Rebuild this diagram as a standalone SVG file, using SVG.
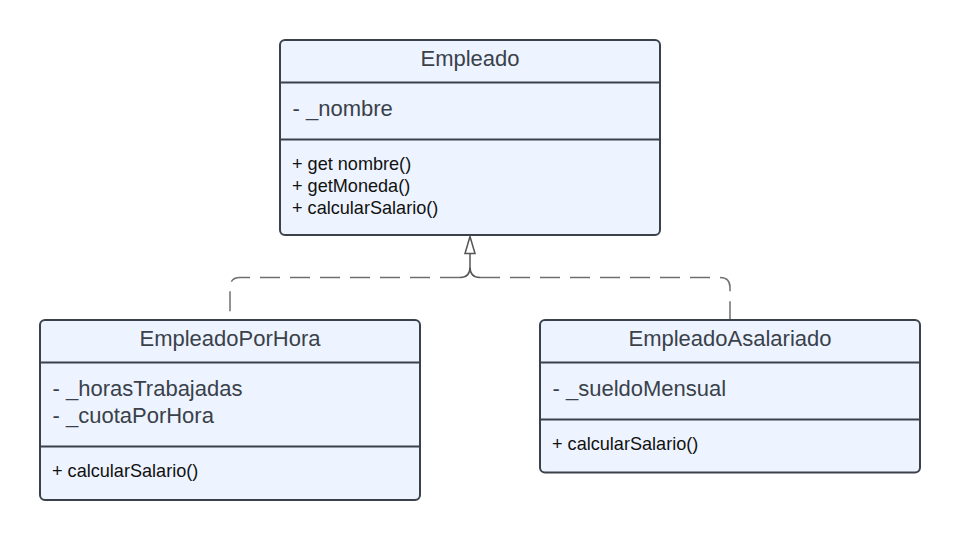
<svg xmlns="http://www.w3.org/2000/svg" width="960" height="540" viewBox="0 0 960 540">
<defs>
<style>
.box{fill:#edf4ff;stroke:#3a414a;stroke-width:2}
.div{stroke:#3a414a;stroke-width:2;fill:none}
.title{font-family:"Liberation Sans",Arial,sans-serif;font-size:22px;fill:#3a414a;text-anchor:middle}
.attr{font-family:"Liberation Sans",Arial,sans-serif;font-size:22px;fill:#3a414a}
.meth{font-family:"Liberation Sans",Arial,sans-serif;font-size:18.1px;fill:#111111}
.dash{fill:none;stroke:#6f6f6f;stroke-width:1.5;stroke-dasharray:20 10}
.solid{fill:none;stroke:#555555;stroke-width:1.5}
</style>
</defs>
<rect width="960" height="540" fill="#ffffff"/>
<g id="connectors">
<path class="dash" d="M460,277.5 L240,277.5 Q230,277.5 230,287.5 L230,320"/>
<path class="dash" d="M480,277.5 L720,277.5 Q730,277.5 730,287.5 L730,320"/>
<path class="solid" d="M460,277.5 Q470,277.5 470,267 M480,277.5 Q470,277.5 470,267 L470,254"/>
<polygon points="470,236.5 465,253.5 475,253.5" fill="#ffffff" stroke="#555555" stroke-width="1.5" stroke-linejoin="miter"/>
</g>
<g id="Empleado">
<rect class="box" x="280" y="40" width="380" height="195" rx="5"/>
<line class="div" x1="280" y1="82.5" x2="660" y2="82.5"/>
<line class="div" x1="280" y1="139.5" x2="660" y2="139.5"/>
<text class="title" x="470" y="65.5">Empleado</text>
<text class="attr" x="292.5" y="116">- _nombre</text>
<text class="meth" x="292" y="170">+ get nombre()</text>
<text class="meth" x="292" y="192">+ getMoneda()</text>
<text class="meth" x="292" y="214">+ calcularSalario()</text>
</g>
<g id="EmpleadoPorHora">
<rect class="box" x="40" y="320" width="380" height="180" rx="5"/>
<line class="div" x1="40" y1="362.5" x2="420" y2="362.5"/>
<line class="div" x1="40" y1="446.5" x2="420" y2="446.5"/>
<text class="title" x="230" y="345.5">EmpleadoPorHora</text>
<text class="attr" x="52.5" y="396">- _horasTrabajadas</text>
<text class="attr" x="52.5" y="423">- _cuotaPorHora</text>
<text class="meth" x="52" y="477">+ calcularSalario()</text>
</g>
<g id="EmpleadoAsalariado">
<rect class="box" x="540" y="320" width="380" height="152.5" rx="5"/>
<line class="div" x1="540" y1="362.5" x2="920" y2="362.5"/>
<line class="div" x1="540" y1="419.5" x2="920" y2="419.5"/>
<text class="title" x="730" y="345.5">EmpleadoAsalariado</text>
<text class="attr" x="552.5" y="396">- _sueldoMensual</text>
<text class="meth" x="552" y="450">+ calcularSalario()</text>
</g>
</svg>
